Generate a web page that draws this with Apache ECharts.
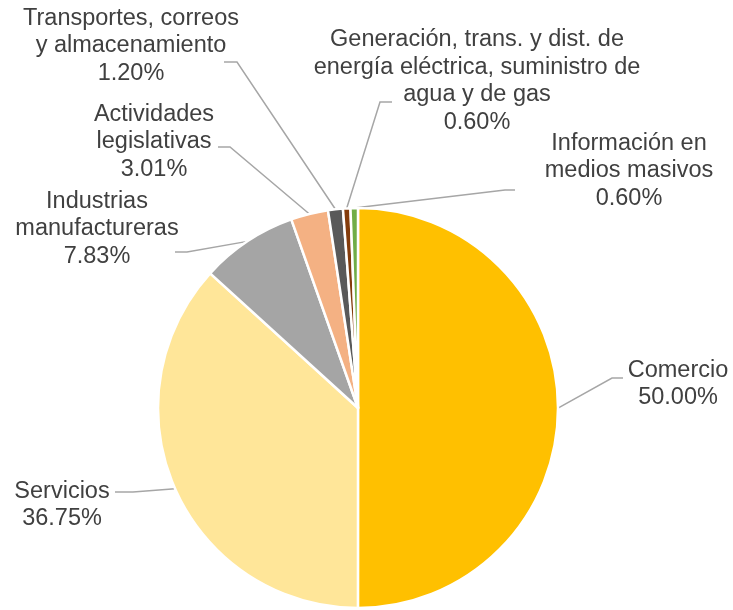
<!DOCTYPE html>
<html>
<head>
<meta charset="utf-8">
<script src="https://cdn.jsdelivr.net/npm/echarts@6/dist/echarts.min.js"></script>
<style>
html, body { margin: 0; padding: 0; background: #fff; }
#main { width: 733px; height: 610px; }
</style>
</head>
<body>
<div id="main"></div>
<script>
// categories (line breaks as in the picture)
var categories = [
	'Comercio',
	'Servicios',
	'Industrias\nmanufactureras',
	'Actividades\nlegislativas',
	'Transportes, correos\ny almacenamiento',
	'Generación, trans. y dist. de\nenergía eléctrica, suministro de\nagua y de gas',
	'Información en\nmedios masivos'
];
// share in percent
var values = [50.00, 36.75, 7.83, 3.01, 1.20, 0.60, 0.60];
var colors = ['#FFC000', '#FFE699', '#A5A5A5', '#F4B183', '#595959', '#843C0C', '#70AD47'];

// label placement: centre of the text block
var labelPos = [[678, 384], [62, 505], [97, 229], [154, 142], [131, 46], [477, 81], [629, 171]];
// leader line: bend point, end point (start comes from the slice)
var leaderPts = [
	[[612, 378], [623, 378]],
	[[133, 492], [115, 492]],
	[[187, 252], [175, 252]],
	[[230, 147], [218, 147]],
	[[237, 62], [224, 62]],
	[[380, 102], [392, 102]],
	[[505, 190], [515, 190]]
];

var pieData = [];
for (var i = 0; i < categories.length; i++) {
	pieData.push({ name: categories[i], value: values[i], itemStyle: { color: colors[i] } });
}

var myChart = echarts.init(document.getElementById('main'));
myChart.setOption({
	animation: false,
	series: [{
		type: 'pie',
		center: [358, 408],
		radius: 200,
		startAngle: 90,
		clockwise: true,
		avoidLabelOverlap: false,
		data: pieData,
		itemStyle: { borderColor: '#fff', borderWidth: 2.5 },
		label: {
			show: true,
			position: 'outside',
			overflow: 'none',
			fontFamily: '"Liberation Sans", Arial, sans-serif',
			fontSize: 23.5,
			lineHeight: 27.5,
			color: '#404040',
			formatter: function (p) {
				return p.name + '\n' + p.value.toFixed(2) + '%';
			}
		},
		labelLine: {
			show: true,
			smooth: false,
			lineStyle: { color: '#A6A6A6', width: 1.5 }
		},
		labelLayout: function (params) {
			var i = params.dataIndex;
			var start = params.labelLinePoints ? params.labelLinePoints[0] : leaderPts[i][0];
			return {
				x: labelPos[i][0],
				y: labelPos[i][1],
				align: 'center',
				verticalAlign: 'middle',
				labelLinePoints: [start, leaderPts[i][0], leaderPts[i][1]]
			};
		}
	}]
});
</script>
</body>
</html>
